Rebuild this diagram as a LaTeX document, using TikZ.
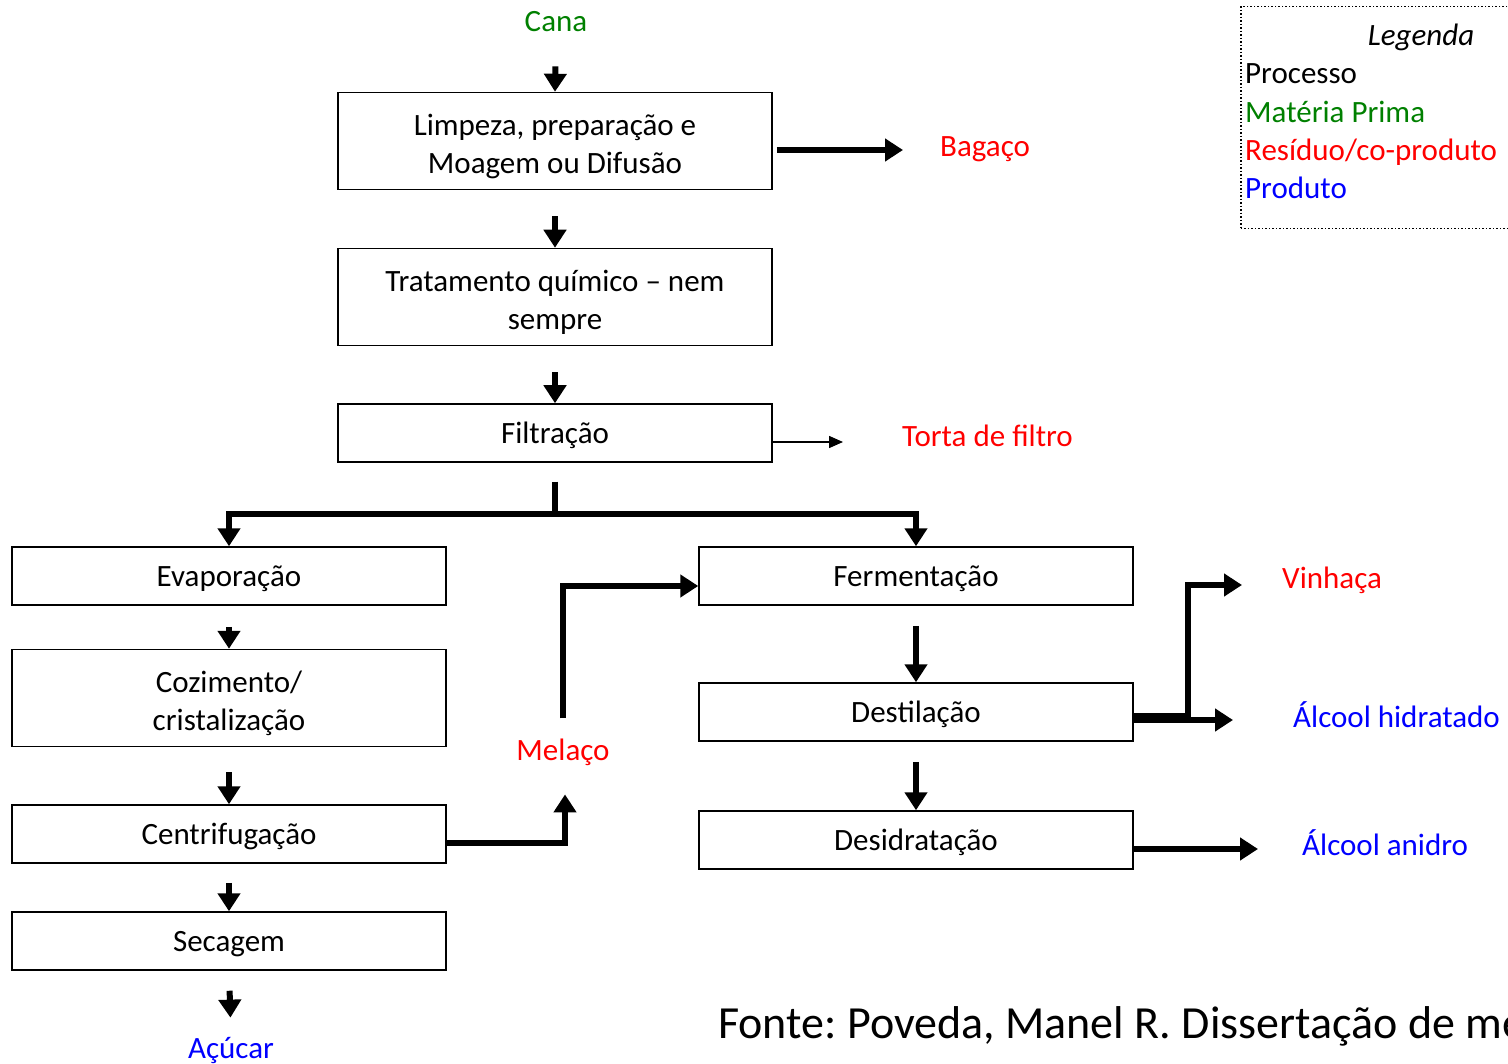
\documentclass[tikz,border=0pt]{standalone}
\usepackage{fontspec}
\setmainfont{Carlito}
\usetikzlibrary{arrows.meta}
\frenchspacing

\definecolor{materia}{RGB}{0,128,0}
\definecolor{residuo}{RGB}{255,0,0}
\definecolor{produto}{RGB}{0,0,255}

\tikzset{
  caixa/.style={draw, line width=1.5pt, minimum width=434pt, minimum height=58pt, align=center, inner sep=0pt, text height=27pt},
  caixadupla/.style={caixa, minimum height=97pt, text height=70pt},
  rotulo/.style={inner sep=0pt, anchor=base},
  linha/.style={line width=6pt},
  seta/.style={line width=6pt, -{Triangle[length=18pt,width=22pt]}},
  setafina/.style={line width=1.5pt, -{Triangle[length=14pt,width=12pt]}}
}

\begin{document}
\begin{tikzpicture}[x=1pt, y=-1pt, every node/.style={font=\fontsize{31}{38}\selectfont}]
  \useasboundingbox (0,0) rectangle (1508,1064);
  \clip (0,0) rectangle (1508,1064);

  % main line
  \node[rotulo, text=materia] (cana) at (556,32) {Cana};
  \node[caixadupla] (limpeza) at (555,141) {Limpeza, preparação e\\Moagem ou Difusão};
  \node[caixadupla] (tratamento) at (555,297) {Tratamento químico -- nem\\sempre};
  \node[caixa] (filtracao) at (555,433) {Filtração};
  \node[rotulo, anchor=west, text=residuo] (bagaco) at (940,149) {Bagaço};
  \node[rotulo, anchor=west, text=residuo] (torta) at (902,436) {Torta de filtro};

  % sugar branch
  \node[caixa] (evaporacao) at (229,576) {Evaporação};
  \node[caixadupla] (cozimento) at (229,698) {Cozimento/\\cristalização};
  \node[caixa] (centrifugacao) at (229,834) {Centrifugação};
  \node[caixa] (secagem) at (229,941) {Secagem};
  \node[rotulo, text=produto] (acucar) at (231,1058) {Açúcar};
  \node[rotulo, text=residuo] (melaco) at (563,760) {Melaço};

  % alcohol branch
  \node[caixa] (fermentacao) at (916,576) {Fermentação};
  \node[caixa] (destilacao) at (916,712) {Destilação};
  \node[caixa] (desidratacao) at (916,840) {Desidratação};
  \node[rotulo, anchor=west, text=residuo] (vinhaca) at (1282,580) {Vinhaça};
  \node[rotulo, anchor=west, text=produto] (hidratado) at (1293,715) {Álcool hidratado};
  \node[rotulo, anchor=west, text=produto] (anidro) at (1302,843) {Álcool anidro};

  % arrow tips in front of the labels
  \coordinate (pontabagaco) at (903,150);
  \coordinate (pontatorta) at (843,442);
  \coordinate (pontavinhaca) at (1242,585);
  \coordinate (pontahidratado) at (1233,720);
  \coordinate (pontaanidro) at (1258,849);
  \coordinate (ramo) at (1188,716);

  % straight steps between boxes
  \draw[seta, shorten <=34pt] (cana.south) -- (limpeza.north);
  \foreach \de/\para/\folga in {limpeza/tratamento/26, tratamento/filtracao/26,
      evaporacao/cozimento/21, cozimento/centrifugacao/25, centrifugacao/secagem/19,
      fermentacao/destilacao/20, destilacao/desidratacao/20} {
    \draw[seta, shorten <=\folga pt] (\de.south) -- (\para.north);
  }
  \draw[seta, shorten <=20pt, shorten >=19pt] (secagem.south) -- (acucar.north);

  % by-products and outputs
  \draw[seta, shorten <=4pt] (limpeza.east |- pontabagaco) -- (pontabagaco);
  \draw[setafina] (filtracao.east |- pontatorta) -- (pontatorta);
  \draw[seta] (desidratacao.east |- pontaanidro) -- (pontaanidro);
  \draw[seta] (destilacao.east |- pontahidratado) -- (pontahidratado);
  \draw[seta] (destilacao.east |- ramo) -- (ramo) |- (pontavinhaca);

  % split after filtration
  \coordinate (divisao) at (555,514);
  \draw[linha, shorten <=19pt] (filtracao.south) -- (divisao);
  \draw[seta] (divisao) -| (evaporacao.north);
  \draw[seta] (divisao) -| (fermentacao.north);

  % molasses goes to fermentation
  \draw[seta, shorten >=29pt] ([yshift=-9pt]centrifugacao.east) -| ([xshift=2pt]melaco.south);
  \draw[seta, shorten <=20pt] (melaco.north) |- ([yshift=-10pt]fermentacao.west);

  % legend
  \node[draw, dotted, line width=1.5pt, anchor=north west, minimum width=290pt, minimum height=222pt, inner sep=0pt] (legenda) at (1240,6) {};
  \node[rotulo] (legtitulo) at (1421,46) {\itshape Legenda};
  \foreach \nome/\cor/\y in {Processo/black/84, Matéria Prima/materia/123,
      {Resíduo/co-produto}/residuo/161, Produto/produto/199} {
    \node[rotulo, anchor=base west, text=\cor] at (1245,\y) {\nome};
  }

  % source
  \node[rotulo, anchor=base west, font=\fontsize{46}{55}\selectfont] (fonte) at (718,1038) {Fonte: Poveda, Manel R. Dissertação de mestrado};
\end{tikzpicture}
\end{document}
